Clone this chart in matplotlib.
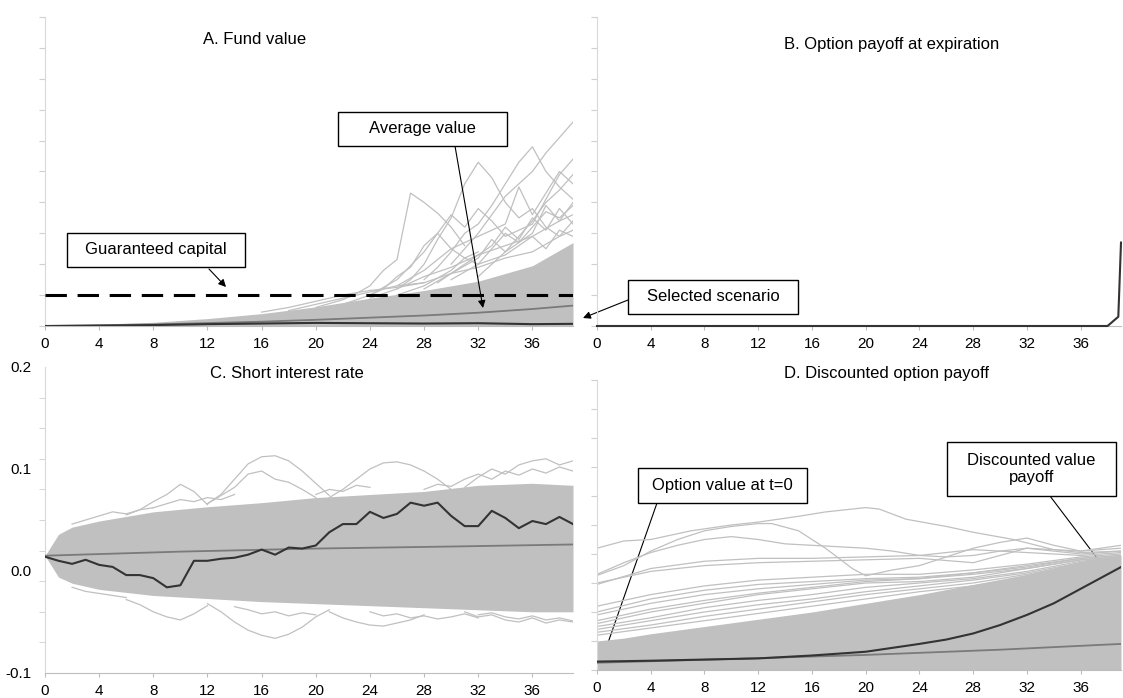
import numpy as np
import matplotlib.pyplot as plt
from matplotlib.patches import Rectangle

plt.rcParams['font.family'] = ['Liberation Sans', 'DejaVu Sans']

W, H = 1123, 698
steps = list(range(40))
tick_steps = list(range(0, 37, 4))
env_x = [0, 1, 2, 4, 8, 12, 16, 20, 24, 28, 32, 36, 39]

# A. Fund value (arbitrary units, axis 0..10)
a_upper = [0.02, 0.03, 0.04, 0.06, 0.12, 0.24, 0.40, 0.62, 0.90, 1.15, 1.45, 1.95, 2.70]
a_paths = [
    ([20, 22, 23, 24, 25, 26, 27, 28, 29, 30, 31], [0.6, 0.85, 1.05, 1.3, 1.8, 2.15, 4.3, 4.0, 3.65, 3.2, 2.6]),
    ([26, 27, 28, 29, 30, 31, 32, 33, 34, 35, 36, 37, 38, 39], [1.2, 1.5, 2.0, 2.8, 3.5, 4.6, 5.3, 4.8, 4.0, 3.5, 3.8, 3.2, 2.9, 3.1]),
    ([30, 31, 32, 33, 34, 35, 36, 37, 38, 39], [2.0, 2.5, 3.0, 3.6, 4.2, 4.6, 5.0, 5.6, 6.1, 6.6]),
    ([28, 29, 30, 31, 32, 33, 34, 35, 36, 37, 38, 39], [1.5, 1.9, 2.4, 3.0, 3.3, 3.9, 4.6, 5.3, 5.8, 5.0, 4.5, 4.1]),
    ([24, 26, 28, 29, 30, 31, 32, 33, 34, 36, 38, 39], [1.0, 1.5, 2.4, 3.0, 3.6, 3.2, 3.8, 3.4, 2.9, 3.3, 4.9, 5.4]),
    ([26, 28, 30, 32, 34, 35, 36, 37, 38, 39], [1.3, 1.8, 2.5, 2.9, 3.3, 4.5, 3.6, 4.3, 5.0, 4.6]),
    ([28, 30, 32, 33, 34, 36, 37, 38, 39], [1.2, 1.7, 2.2, 2.8, 2.4, 3.0, 3.9, 3.4, 4.0]),
    ([29, 31, 33, 34, 35, 36, 37, 38, 39], [1.4, 2.0, 2.6, 3.2, 2.8, 3.5, 3.1, 3.8, 3.3]),
    ([22, 24, 25, 26, 27, 28, 29, 30, 31, 32], [0.7, 1.0, 1.2, 1.6, 1.9, 2.6, 3.0, 2.5, 2.2, 2.4]),
    ([30, 32, 34, 35, 36, 37, 38, 39], [1.5, 2.0, 2.3, 2.6, 2.9, 2.5, 3.1, 2.9]),
    ([18, 20, 22, 24, 26, 28, 30, 32, 34, 36, 38, 39], [0.5, 0.7, 0.9, 1.1, 1.3, 1.4, 1.7, 1.9, 2.2, 2.4, 2.9, 3.4]),
    ([24, 26, 28, 30, 32, 34, 36, 38, 39], [0.9, 1.2, 1.6, 1.9, 2.3, 2.6, 2.9, 3.4, 3.6]),
    ([26, 28, 30, 31, 32, 33, 34, 35, 36, 37, 38, 39], [1.0, 1.3, 1.8, 2.2, 2.0, 2.5, 3.0, 2.7, 3.2, 3.7, 3.5, 3.9]),
    ([32, 33, 34, 35, 36, 37, 38, 39], [1.6, 2.0, 2.4, 2.9, 3.4, 4.0, 4.4, 4.9]),
    ([16, 18, 20, 22, 24, 26, 28], [0.45, 0.6, 0.8, 1.0, 1.15, 1.25, 1.4]),
]
a_mean_x = [0, 8, 16, 20, 24, 28, 32, 36, 39]
a_mean = [0.0, 0.05, 0.14, 0.2, 0.27, 0.34, 0.43, 0.55, 0.66]
a_sel_x = [0, 4, 8, 12, 16, 20, 24, 28, 32, 36, 39]
a_sel = [0.0, 0.01, 0.03, 0.06, 0.08, 0.10, 0.09, 0.08, 0.09, 0.06, 0.07]
guaranteed = 1.0

# B. Option payoff of the selected scenario
b_time = [0, 38, 38.8, 39]
b_payoff = [0.0, 0.0, 0.3, 2.7]

# C. Short interest rate
c_upper = [0.015, 0.036, 0.043, 0.049, 0.058, 0.063, 0.067, 0.072, 0.075, 0.078, 0.084, 0.086, 0.084]
c_lower = [0.015, -0.006, -0.012, -0.018, -0.024, -0.027, -0.030, -0.032, -0.034, -0.036, -0.038, -0.040, -0.040]
c_paths = [
    ([12, 13, 14, 15, 16, 17, 18, 19, 20, 21], [0.066, 0.075, 0.090, 0.105, 0.112, 0.113, 0.108, 0.098, 0.086, 0.074]),
    ([12, 14, 15, 16, 17, 18, 19, 20], [0.066, 0.082, 0.095, 0.098, 0.090, 0.087, 0.080, 0.072]),
    ([6, 7, 8, 9, 10, 11, 12], [0.055, 0.060, 0.068, 0.075, 0.085, 0.078, 0.065]),
    ([21, 22, 23, 24, 25, 26, 27, 28, 29, 30], [0.072, 0.080, 0.090, 0.100, 0.106, 0.107, 0.104, 0.098, 0.090, 0.080]),
    ([31, 32, 33, 34, 35, 36, 37, 38, 39], [0.082, 0.092, 0.100, 0.095, 0.104, 0.108, 0.110, 0.104, 0.108]),
    ([2, 3, 4, 5, 6, 7, 8], [0.046, 0.050, 0.054, 0.058, 0.056, 0.060, 0.062]),
    ([8, 9, 10, 11, 12, 13, 14], [0.062, 0.066, 0.070, 0.068, 0.072, 0.070, 0.075]),
    ([20, 21, 22, 23, 24], [0.075, 0.080, 0.078, 0.084, 0.082]),
    ([28, 29, 30, 31, 32, 33, 34, 35, 36, 37, 38, 39], [0.080, 0.085, 0.083, 0.090, 0.095, 0.090, 0.098, 0.094, 0.100, 0.096, 0.102, 0.098]),
    ([12, 13, 14, 15, 16, 17, 18, 19, 20, 21], [-0.032, -0.040, -0.050, -0.058, -0.063, -0.066, -0.062, -0.055, -0.045, -0.038]),
    ([6, 7, 8, 9, 10, 11, 12], [-0.028, -0.033, -0.040, -0.045, -0.048, -0.042, -0.034]),
    ([21, 22, 23, 24, 25, 26, 27, 28], [-0.040, -0.046, -0.050, -0.053, -0.054, -0.051, -0.048, -0.043]),
    ([31, 32, 33, 34, 35, 36, 37, 38, 39], [-0.040, -0.045, -0.043, -0.048, -0.050, -0.046, -0.051, -0.048, -0.050]),
    ([2, 3, 4, 5, 6], [-0.016, -0.020, -0.022, -0.024, -0.026]),
    ([14, 15, 16, 17, 18, 19, 20], [-0.035, -0.038, -0.042, -0.040, -0.044, -0.041, -0.043]),
    ([24, 25, 26, 27, 28, 29, 30, 31, 32], [-0.040, -0.044, -0.042, -0.046, -0.044, -0.047, -0.045, -0.042, -0.046]),
    ([32, 33, 34, 35, 36, 37, 38, 39], [-0.043, -0.041, -0.045, -0.047, -0.044, -0.048, -0.046, -0.049]),
]
c_mean_x = [0, 10, 20, 30, 39]
c_mean = [0.015, 0.019, 0.022, 0.024, 0.026]
c_sel = [0.014, 0.010, 0.007, 0.011, 0.006, 0.004, -0.004, -0.004, -0.007, -0.016,
         -0.014, 0.010, 0.010, 0.012, 0.013, 0.016, 0.021, 0.016, 0.023, 0.022,
         0.025, 0.038, 0.046, 0.046, 0.058, 0.052, 0.056, 0.067, 0.064, 0.067,
         0.054, 0.044, 0.044, 0.059, 0.052, 0.042, 0.049, 0.046, 0.053, 0.046]

# D. Discounted option payoff (arbitrary units, axis 0..10)
d_upper = [1.0, 1.05, 1.1, 1.25, 1.5, 1.75, 2.0, 2.3, 2.6, 2.95, 3.3, 3.75, 3.95]
d_grid = [0, 4, 8, 12, 16, 20, 24, 28, 32, 36, 39]
d_paths = [
    ([0, 2, 4, 7, 10, 12, 15, 17, 20, 21, 23, 26, 28, 31, 34, 36, 39],
     [4.2, 4.45, 4.5, 4.8, 5.0, 5.1, 5.3, 5.45, 5.6, 5.55, 5.2, 4.95, 4.75, 4.5, 4.15, 4.1, 4.3]),
    ([0, 2, 4, 6, 8, 10, 12, 13, 15, 17, 19, 20, 22, 24, 26, 28, 30, 32, 34, 36, 39],
     [3.26, 3.6, 4.1, 4.5, 4.8, 4.95, 5.05, 5.05, 4.8, 4.2, 3.5, 3.25, 3.45, 3.6, 3.9, 4.2, 4.4, 4.55, 4.3, 4.1, 4.2]),
    ([0, 2, 4, 6, 8, 10, 12, 14, 16, 18, 20, 22, 24, 26, 28, 30, 32, 34, 36, 39],
     [3.3, 3.7, 4.05, 4.3, 4.5, 4.6, 4.5, 4.35, 4.3, 4.25, 4.2, 4.1, 3.95, 3.9, 3.95, 4.1, 4.2, 4.15, 4.05, 4.1]),
    (d_grid, [2.95, 3.5, 3.75, 3.85, 3.85, 3.9, 3.95, 4.15, 4.05, 3.95, 4.05]),
    (d_grid, [3.0, 3.4, 3.6, 3.7, 3.75, 3.8, 3.85, 3.7, 4.2, 4.0, 4.1]),
    (d_grid, [2.2, 2.6, 2.9, 3.1, 3.2, 3.3, 3.3, 3.45, 3.65, 3.9, 4.0]),
    (d_grid, [2.0, 2.45, 2.75, 2.95, 3.05, 3.15, 3.2, 3.35, 3.55, 3.85, 3.95]),
    (d_grid, [1.9, 2.3, 2.6, 2.8, 2.95, 3.1, 3.15, 3.3, 3.5, 3.8, 3.9]),
    (d_grid, [1.7, 2.1, 2.4, 2.65, 2.85, 3.05, 3.15, 3.35, 3.6, 3.85, 3.95]),
    (d_grid, [1.6, 2.0, 2.3, 2.6, 2.8, 3.0, 3.05, 3.2, 3.5, 3.8, 3.9]),
    (d_grid, [1.5, 1.8, 2.15, 2.4, 2.6, 2.85, 3.0, 3.15, 3.4, 3.75, 3.9]),
    (d_grid, [1.4, 1.7, 2.0, 2.25, 2.45, 2.7, 2.9, 3.1, 3.35, 3.7, 3.9]),
    (d_grid, [1.3, 1.55, 1.85, 2.1, 2.35, 2.6, 2.8, 3.0, 3.3, 3.65, 3.85]),
    (d_grid, [1.2, 1.45, 1.7, 1.95, 2.2, 2.45, 2.7, 2.9, 3.2, 3.6, 3.85]),
]
d_mean_x = [0, 10, 20, 30, 39]
d_mean = [0.25, 0.38, 0.52, 0.70, 0.90]
d_sel_x = [0, 4, 8, 12, 16, 20, 24, 26, 28, 30, 32, 34, 36, 38, 39]
d_sel = [0.29, 0.32, 0.36, 0.40, 0.50, 0.63, 0.90, 1.05, 1.26, 1.55, 1.9, 2.3, 2.8, 3.3, 3.55]

GREY = '#c0c0c0'
MEAN = '#7a7a7a'
SEL = '#333333'

fig = plt.figure(figsize=(W / 100, H / 100), dpi=100)


def add_axes_px(left, top, right, bottom):
    return fig.add_axes([left / W, 1 - bottom / H, (right - left) / W, (bottom - top) / H])


def style(ax, ylim, yticks):
    ax.set_xlim(0, 39)
    ax.set_ylim(*ylim)
    ax.set_facecolor('none')
    for s in ['top', 'right']:
        ax.spines[s].set_visible(False)
    ax.spines['left'].set_color('#d9d9d9')
    ax.spines['bottom'].set_color('#bdbdbd')
    ax.set_xticks(tick_steps)
    ax.set_xticklabels([str(t) for t in tick_steps])
    ax.tick_params(axis='x', length=3, color='#bdbdbd', labelsize=11, pad=5)
    ax.set_yticks(yticks)
    ax.set_yticklabels([])
    ax.tick_params(axis='y', length=4, color='#d0d0d0')


def grey_paths(ax, paths):
    for px, py in paths:
        ax.plot(px, py, color=GREY, lw=0.9, zorder=2)


# panel A
axA = add_axes_px(45, 17, 573, 326)
style(axA, (0, 10), range(11))
axA.fill_between(env_x, 0, a_upper, color=GREY, lw=0, zorder=1)
grey_paths(axA, a_paths)
axA.axhline(guaranteed, color='black', lw=2.2, ls=(0, (7, 3.5)), zorder=4)
axA.plot(a_mean_x, a_mean, color=MEAN, lw=1.3, zorder=3)
axA.plot(a_sel_x, a_sel, color=SEL, lw=1.5, zorder=3)

# panel B
axB = add_axes_px(597, 17, 1121, 326)
style(axB, (0, 10), range(11))
axB.plot(b_time, b_payoff, color=SEL, lw=1.5, clip_on=False, zorder=3)

# panel C
axC = add_axes_px(45, 367, 573, 673)
style(axC, (-0.1, 0.2), [-0.1, 0.0, 0.1, 0.2])
axC.set_yticklabels(['-0.1', '0.0', '0.1', '0.2'])
axC.tick_params(axis='y', which='major', length=0, labelsize=11, pad=10)
axC.set_yticks(np.arange(-0.1, 0.2001, 0.03), minor=True)
axC.tick_params(axis='y', which='minor', length=4, color='#d0d0d0')
axC.fill_between(env_x, c_lower, c_upper, color=GREY, lw=0, zorder=1)
grey_paths(axC, c_paths)
axC.plot(c_mean_x, c_mean, color=MEAN, lw=1.3, zorder=3)
axC.plot(steps, c_sel, color=SEL, lw=1.5, zorder=3)

# panel D
axD = add_axes_px(597, 380, 1121, 670)
style(axD, (0, 10), range(11))
axD.fill_between(env_x, 0, d_upper, color=GREY, lw=0, zorder=1)
grey_paths(axD, d_paths)
axD.plot(d_mean_x, d_mean, color=MEAN, lw=1.3, zorder=3)
axD.plot(d_sel_x, d_sel, color=SEL, lw=1.5, zorder=3)

# titles
for label, (cx, cy) in [('A. Fund value', (255, 39)),
                        ('B. Option payoff at expiration', (892, 45)),
                        ('C. Short interest rate', (287, 373)),
                        ('D. Discounted option payoff', (886, 373))]:
    fig.text(cx / W, 1 - cy / H, label, ha='center', va='center', fontsize=12)

# callout boxes with arrows (pixel layout)
callouts = [
    ('Average value', (338, 112, 507, 146), (455, 146), (483, 308)),
    ('Guaranteed capital', (67, 233, 245, 267), (209, 269), (226, 287)),
    ('Selected scenario', (628, 280, 798, 314), (628, 300), (583, 318)),
    ('Option value at t=0', (638, 468, 807, 503), (657, 503), (603, 657)),
    ('Discounted value\npayoff', (947, 442, 1116, 496), (1050, 496), (1106, 570)),
]
for text, (l, t, r, b), tail, tip in callouts:
    fig.add_artist(Rectangle((l / W, 1 - b / H), (r - l) / W, (b - t) / H,
                             transform=fig.transFigure, facecolor='white',
                             edgecolor='black', lw=1, zorder=5))
    fig.text((l + r) / 2 / W, 1 - (t + b) / 2 / H, text, ha='center', va='center',
             fontsize=12, linespacing=1.1, zorder=6)
    axA.annotate('', xy=(tip[0] / W, 1 - tip[1] / H), xytext=(tail[0] / W, 1 - tail[1] / H),
                 xycoords='figure fraction', textcoords='figure fraction',
                 arrowprops=dict(arrowstyle='-|>', color='black', lw=0.8,
                                 mutation_scale=11, shrinkA=0, shrinkB=0),
                 annotation_clip=False, zorder=6)

fig.savefig('out.png', dpi=100)
